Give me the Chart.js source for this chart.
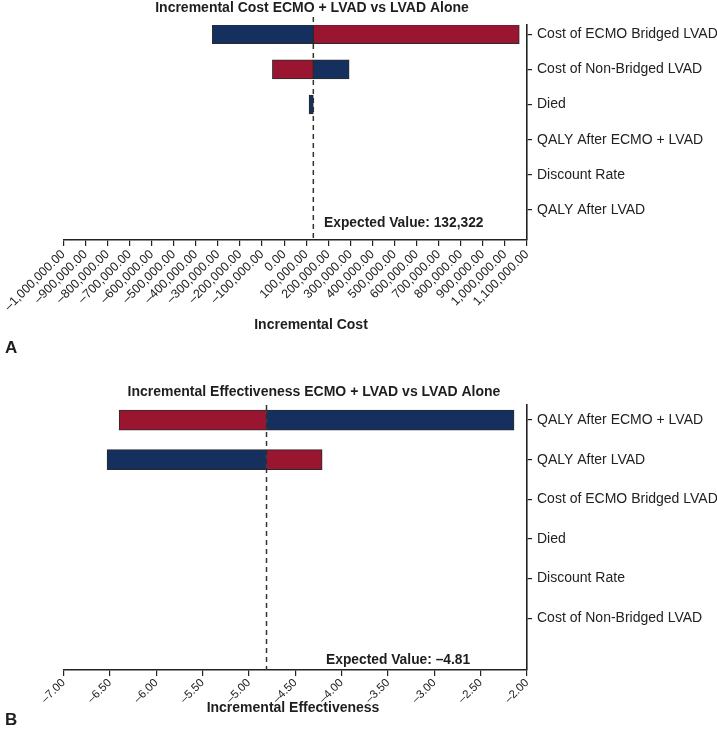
<!DOCTYPE html>
<html><head><meta charset="utf-8">
<script src="https://cdn.jsdelivr.net/npm/chart.js@4"></script>
<style>
html,body{margin:0;padding:0;background:#fff;}
#wrap{position:relative;width:717px;height:733px;overflow:hidden;}
.panel{position:absolute;left:0;width:717px;}
</style></head><body>
<div id="wrap">
<div class="panel" style="top:0;height:365px"><canvas id="cA"></canvas></div>
<div class="panel" style="top:365px;height:368px"><canvas id="cB"></canvas></div>
</div>
<script>
// ---------- Panel A data ----------
const categoriesA = ['Cost of ECMO Bridged LVAD','Cost of Non-Bridged LVAD','Died','QALY After ECMO + LVAD','Discount Rate','QALY After LVAD'];
const blueEndA = [-325000, 294500, 113000, null, null, null];
const redEndA  = [1065000, -53000, null, null, null, null];
const expectedA = 132322;
const expectedTextA = 'Expected Value: 132,322';
const xTicksA = [-1000000,-900000,-800000,-700000,-600000,-500000,-400000,-300000,-200000,-100000,0,100000,200000,300000,400000,500000,600000,700000,800000,900000,1000000,1100000];
const titleA = 'Incremental Cost ECMO + LVAD vs LVAD Alone';
const axisTitleA = 'Incremental Cost';

// ---------- Panel B data ----------
const categoriesB = ['QALY After ECMO + LVAD','QALY After LVAD','Cost of ECMO Bridged LVAD','Died','Discount Rate','Cost of Non-Bridged LVAD'];
const blueEndB = [-2.14, -6.53, null, null, null, null];
const redEndB  = [-6.40, -4.21, null, null, null, null];
const expectedB = -4.81;
const expectedTextB = 'Expected Value: \u20134.81';
const xTicksB = [-7,-6.5,-6,-5.5,-5,-4.5,-4,-3.5,-3,-2.5,-2];
const titleB = 'Incremental Effectiveness ECMO + LVAD vs LVAD Alone';
const axisTitleB = 'Incremental Effectiveness';

const BLUE = '#15305f', RED = '#9a1530', INK = '#1e1e1e';
const FAM = '"Liberation Sans", Arial, Helvetica, sans-serif';

function fmt(v){
  const s = Math.abs(v).toLocaleString('en-US',{minimumFractionDigits:2,maximumFractionDigits:2});
  return (v < -1e-9 ? '\u2013' : '') + s;
}
function toBars(ends, base){
  return ends.map((v,i)=> v===null ? null : ({x:[base, v], y:i})).filter(Boolean);
}

function makePanel(id, cfg){
  const overlay = {
    id:'overlay_'+id,
    beforeDatasetsDraw(chart){
      const {ctx, chartArea:a, scales:{x}} = chart;
      const xe = x.getPixelForValue(cfg.expected);
      ctx.save();
      ctx.strokeStyle = '#333'; ctx.lineWidth = 1.5; ctx.setLineDash([5,4]);
      ctx.beginPath(); ctx.moveTo(xe, a.top - cfg.lineExtra); ctx.lineTo(xe, a.bottom); ctx.stroke();
      ctx.restore();
    },
    afterDraw(chart){
      const {ctx} = chart;
      ctx.save();
      ctx.fillStyle = INK; ctx.textBaseline = 'middle';
      ctx.font = 'bold 14px ' + FAM; ctx.textAlign = 'center';
      ctx.fillText(cfg.title, cfg.titleX, cfg.titleY);
      ctx.font = 'bold 13.8px ' + FAM; ctx.textAlign = 'left';
      ctx.fillText(cfg.evText, cfg.evX, cfg.evY);
      ctx.font = 'bold 14px ' + FAM; ctx.textAlign = 'center';
      ctx.fillText(cfg.axisTitle, cfg.axisTitleX, cfg.axisTitleY);
      ctx.font = 'bold 17px ' + FAM; ctx.textAlign = 'left';
      ctx.fillText(cfg.letter, 5, cfg.letterY);
      ctx.restore();
    }
  };
  const ds = (ends, color) => ({
    data: toBars(ends, cfg.expected), backgroundColor: color, borderColor: '#2a2a2a',
    borderWidth: 1, borderSkipped: false, barThickness: cfg.barThickness, grouped: false
  });
  return new Chart(document.getElementById(id), {
    type: 'bar',
    data: { datasets: [ ds(cfg.blue, BLUE), ds(cfg.red, RED) ] },
    options: {
      indexAxis: 'y', responsive: true, maintainAspectRatio: false, animation: false,
      layout: { padding: { top: cfg.padTop, left: cfg.padLeft, right: 0, bottom: 0 } },
      plugins: { legend: {display:false}, tooltip: {enabled:false}, title: {display:false} },
      scales: {
        x: {
          type: 'linear', min: cfg.xTicks[0], max: cfg.xTicks[cfg.xTicks.length-1], offset: false,
          afterBuildTicks: s => { s.ticks = cfg.xTicks.map(v => ({value: v})); },
          ticks: { autoSkip: false, minRotation: 45, maxRotation: 45, padding: cfg.xPad,
                   callback: v => fmt(v), color: '#222', font: {size: cfg.xFont, family: FAM} },
          grid: { display: true, offset: false, drawOnChartArea: false, drawTicks: true, tickLength: 6, color: '#222', lineWidth: 1.2 },
          border: { display: true, color: '#222', width: 1.6 },
          afterFit: s => { s.paddingLeft = 0; s.paddingRight = 0; s.height = cfg.xHeight; }
        },
        y: {
          type: 'linear', position: 'right', reverse: true, min: cfg.yMin, max: cfg.yMax, offset: false,
          afterBuildTicks: s => { s.ticks = cfg.labels.map((_, i) => ({value: i})); },
          ticks: { padding: 5, color: '#222', font: {size: 14, family: FAM},
                   callback: v => cfg.labels[v] !== undefined ? cfg.labels[v] : '' },
          grid: { display: true, offset: false, drawOnChartArea: false, drawTicks: true, tickLength: 5, color: '#222', lineWidth: 1.2 },
          border: { display: true, color: '#222', width: 1.6 },
          afterFit: s => { s.width = 190; s.paddingTop = 0; s.paddingBottom = 0; }
        }
      }
    },
    plugins: [overlay]
  });
}

makePanel('cA', {
  labels: categoriesA, blue: blueEndA, red: redEndA, expected: expectedA, xTicks: xTicksA,
  title: titleA, titleX: 312, titleY: 8, evText: expectedTextA, evX: 324, evY: 223,
  axisTitle: axisTitleA, axisTitleX: 311, axisTitleY: 325, letter: 'A', letterY: 348,
  padTop: 25, padLeft: 63.3, xHeight: 125, yMin: -0.26, yMax: 5.85, barThickness: 19, lineExtra: 8, xFont: 12.5, xPad: 1
});
makePanel('cB', {
  labels: categoriesB, blue: blueEndB, red: redEndB, expected: expectedB, xTicks: xTicksB,
  title: titleB, titleX: 314, titleY: 27, evText: expectedTextB, evX: 326, evY: 295,
  axisTitle: axisTitleB, axisTitleX: 293, axisTitleY: 343, letter: 'B', letterY: 355,
  padTop: 40, padLeft: 63.5, xHeight: 63, yMin: -0.38, yMax: 6.31, barThickness: 20, lineExtra: 0, xFont: 11.5, xPad: 0
});
</script>
</body></html>
